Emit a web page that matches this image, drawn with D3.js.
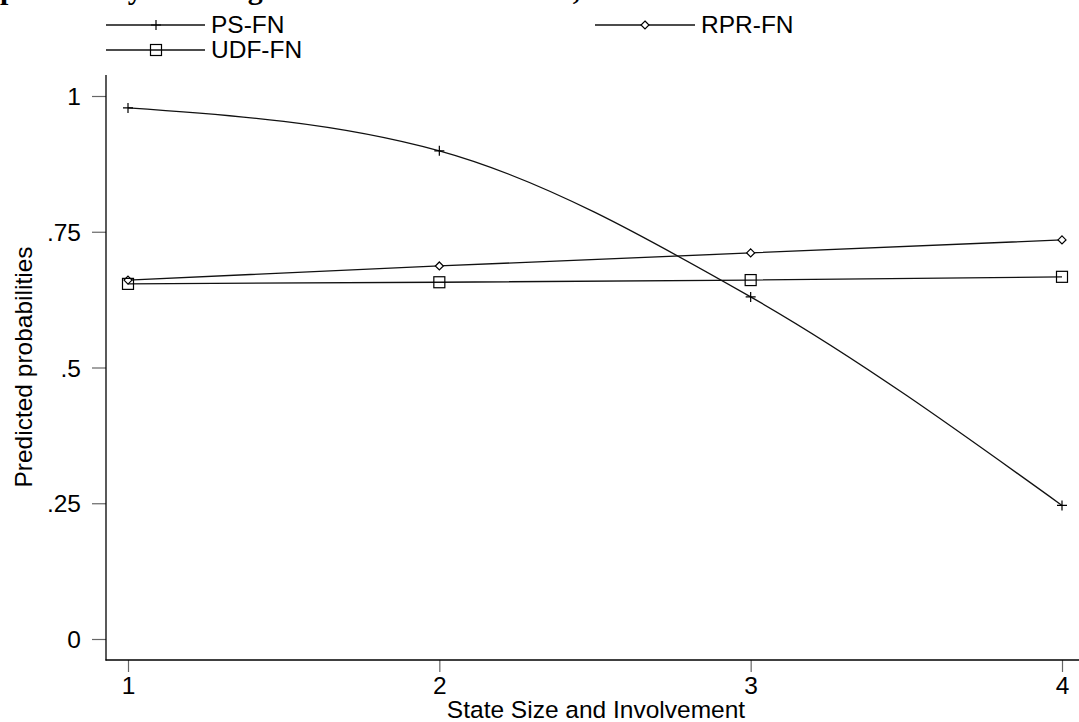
<!DOCTYPE html>
<html>
<head>
<meta charset="utf-8">
<script src="https://cdn.jsdelivr.net/npm/d3@7"></script>
<style>
  body { margin: 0; background: #fff; }
  svg { display: block; }
  text { font-family: "Liberation Sans", Arial, sans-serif; fill: #000; }
</style>
</head>
<body>
<div id="chart"></div>
<script>
// values
const xValues = [1, 2, 3, 4];
const psFN = [0.978, 0.899, 0.630, 0.246];
const rprFN = [0.661, 0.687, 0.711, 0.735];
const udfFN = [0.654, 0.657, 0.661, 0.667];

const yTicks = [0, 0.25, 0.5, 0.75, 1];
const yTickLabels = ["0", ".25", ".5", ".75", "1"];
const xTicks = [1, 2, 3, 4];

const seriesNames = ["PS-FN", "RPR-FN", "UDF-FN"];
const seriesMarkers = ["plus", "diamond", "square"];

const W = 1079, H = 722;
const FONT = "24.5px";

const svg = d3.select("#chart").append("svg")
    .attr("width", W)
    .attr("height", H);

const x = d3.scaleLinear().domain([1, 4]).range([128, 1062]);
const y = d3.scaleLinear().domain([0, 1]).range([639, 96]);

// title, cut off by the top edge like in the original
svg.append("text")
    .attr("x", 0)
    .attr("y", -1)
    .style("font-family", "'Liberation Serif', 'Times New Roman', serif")
    .style("font-weight", "bold")
    .style("font-size", "30px")
    .text("probability of voting for the FN and the UDF, state size and involvement");

// axes
const yAxis = d3.axisLeft(y)
    .tickValues(yTicks)
    .tickFormat((d, i) => yTickLabels[i])
    .tickSize(14)
    .tickPadding(11)
    .tickSizeOuter(0);

const xAxis = d3.axisBottom(x)
    .tickValues(xTicks)
    .tickFormat(d3.format("d"))
    .tickSize(12)
    .tickPadding(4)
    .tickSizeOuter(0);

const gy = svg.append("g")
    .attr("transform", "translate(106,0)")
    .call(yAxis);
const gx = svg.append("g")
    .attr("transform", "translate(0,660)")
    .call(xAxis);

[gx, gy].forEach(g => {
    g.select(".domain").remove();
    g.selectAll(".tick line").attr("stroke", "#666").attr("stroke-width", 1.2);
    g.selectAll(".tick text")
        .style("font-family", "'Liberation Sans', Arial, sans-serif")
        .style("font-size", FONT)
        .attr("fill", "#000");
});
gy.selectAll(".tick text").attr("dy", "0.35em");
gx.selectAll(".tick text").attr("dy", "0.72em");

svg.append("line")
    .attr("x1", 106).attr("x2", 106)
    .attr("y1", 75).attr("y2", 660.5)
    .attr("stroke", "#000").attr("stroke-width", 1.3);
svg.append("line")
    .attr("x1", 105.5).attr("x2", W)
    .attr("y1", 660).attr("y2", 660)
    .attr("stroke", "#000").attr("stroke-width", 1.3);

// axis titles
svg.append("text")
    .attr("transform", "translate(32,367) rotate(-90)")
    .attr("text-anchor", "middle")
    .style("font-size", FONT)
    .text("Predicted probabilities");

svg.append("text")
    .attr("x", 596)
    .attr("y", 718)
    .attr("text-anchor", "middle")
    .style("font-size", FONT)
    .text("State Size and Involvement");

// markers
function drawMarker(g, kind, cx, cy) {
    if (kind === "plus") {
        g.append("path")
            .attr("d", `M${cx - 5},${cy}H${cx + 5}M${cx},${cy - 5}V${cy + 5}`)
            .attr("stroke", "#000").attr("stroke-width", 1.2).attr("fill", "none");
    } else if (kind === "diamond") {
        g.append("path")
            .attr("d", `M${cx},${cy - 4}L${cx + 4},${cy}L${cx},${cy + 4}L${cx - 4},${cy}Z`)
            .attr("stroke", "#000").attr("stroke-width", 1.2).attr("fill", "#fff");
    } else {
        g.append("rect")
            .attr("x", cx - 5.5).attr("y", cy - 5.5)
            .attr("width", 11).attr("height", 11)
            .attr("stroke", "#000").attr("stroke-width", 1.2).attr("fill", "none");
    }
}

const seriesData = [psFN, rprFN, udfFN];
const curves = [d3.curveMonotoneX, d3.curveLinear, d3.curveLinear];

seriesData.forEach((vals, s) => {
    const pts = xValues.map((xv, i) => [xv, vals[i]]);
    const line = d3.line()
        .x(d => x(d[0]))
        .y(d => y(d[1]))
        .curve(curves[s]);
    svg.append("path")
        .datum(pts)
        .attr("d", line)
        .attr("fill", "none")
        .attr("stroke", "#111")
        .attr("stroke-width", 1.3);
    const gm = svg.append("g");
    pts.forEach(d => drawMarker(gm, seriesMarkers[s], x(d[0]), y(d[1])));
});

// legend
const legendPos = [
    {x1: 106, x2: 205, y: 25, mx: 156},
    {x1: 595, x2: 695, y: 25, mx: 645},
    {x1: 106, x2: 205, y: 50, mx: 156}
];
legendPos.forEach((p, s) => {
    const g = svg.append("g");
    g.append("line")
        .attr("x1", p.x1).attr("x2", p.x2)
        .attr("y1", p.y).attr("y2", p.y)
        .attr("stroke", "#111").attr("stroke-width", 1.3);
    drawMarker(g, seriesMarkers[s], p.mx, p.y);
    g.append("text")
        .attr("x", p.x2 + 6)
        .attr("y", p.y + 8)
        .style("font-size", FONT)
        .text(seriesNames[s]);
});
</script>
</body>
</html>
